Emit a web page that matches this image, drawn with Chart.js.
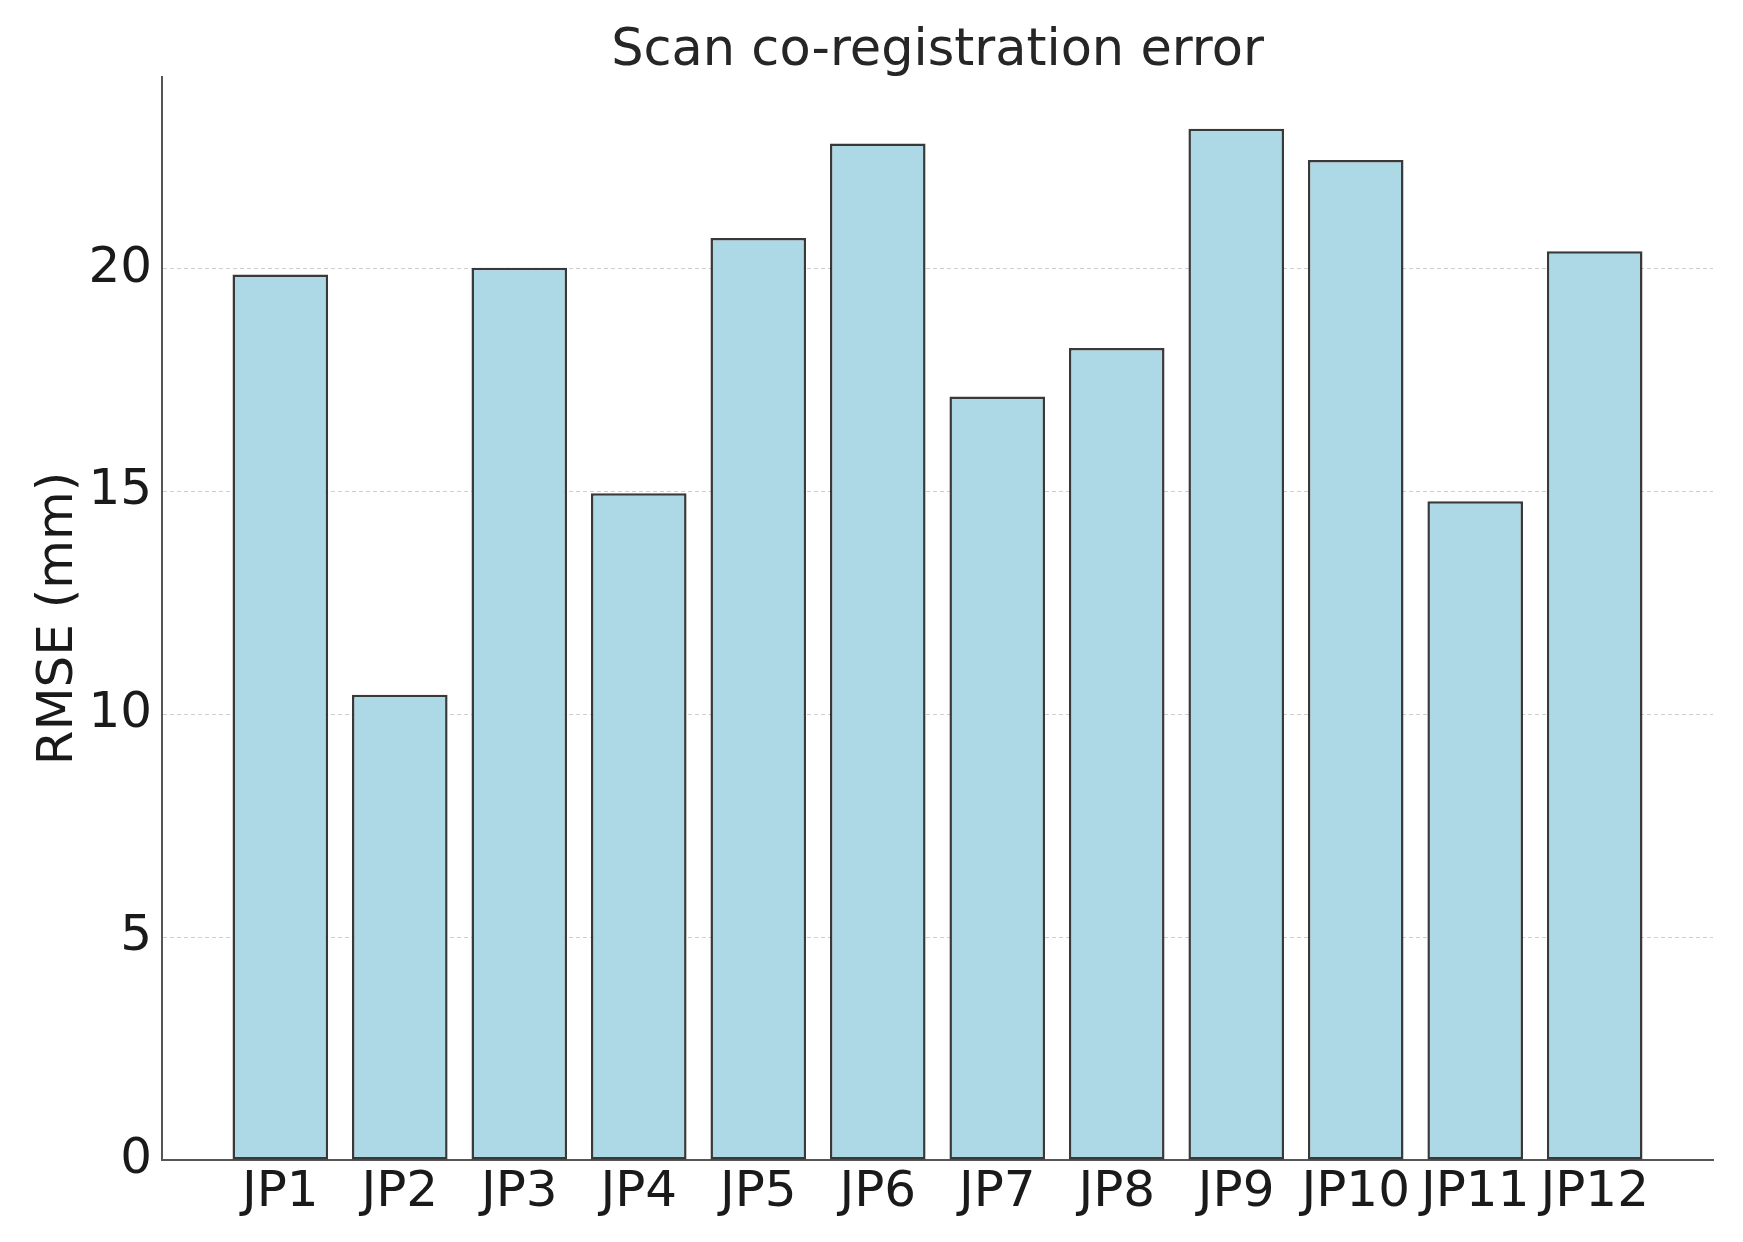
<!DOCTYPE html>
<html>
<head>
<meta charset="utf-8">
<script src="https://cdn.jsdelivr.net/npm/chart.js@4"></script>
<style>
  html, body { margin: 0; padding: 0; background: #ffffff; }
  #wrap { width: 1743px; height: 1242px; }
</style>
</head>
<body>
<div id="wrap"><canvas id="c" width="1743" height="1242"></canvas></div>
<script>
const categories = ["JP1","JP2","JP3","JP4","JP5","JP6","JP7","JP8","JP9","JP10","JP11","JP12"];
const rmseValues = [19.87, 10.44, 20.02, 14.96, 20.69, 22.81, 17.13, 18.22, 23.14, 22.44, 14.78, 20.39];
const yTickValues = [0, 5, 10, 15, 20];
const titleText = "Scan co-registration error";
const yAxisTitle = "RMSE (mm)";

const FONT = "'DejaVu Sans', sans-serif";
const points = rmseValues.map((v, i) => ({ x: i, y: v }));

new Chart(document.getElementById('c'), {
  type: 'bar',
  data: {
    datasets: [{
      data: points,
      backgroundColor: '#ADD8E6',
      borderColor: 'rgba(35,35,35,0.9)',
      borderWidth: 2.5,
      borderSkipped: false,
      categoryPercentage: 1.0,
      barPercentage: 0.8
    }]
  },
  options: {
    responsive: false,
    animation: false,
    layout: { padding: { left: 0, right: 30, top: 0, bottom: 0 } },
    plugins: {
      legend: { display: false },
      tooltip: { enabled: false },
      title: {
        display: true,
        fullSize: false,
        text: titleText,
        color: '#262626',
        font: { family: FONT, size: 51, weight: 'normal', lineHeight: 1.0 },
        padding: { top: 26, bottom: 0 }
      }
    },
    scales: {
      x: {
        type: 'linear',
        offset: false,
        min: -0.99,
        max: 11.99,
        afterBuildTicks: (axis) => { axis.ticks = categories.map((c, i) => ({ value: i })); },
        afterFit: (axis) => { axis.height = 82; },
        ticks: {
          autoSkip: false,
          maxRotation: 0,
          padding: 8,
          color: '#1a1a1a',
          font: { family: FONT, size: 50, lineHeight: 1.0 },
          callback: (v) => categories[v] ?? ''
        },
        grid: { display: false, drawTicks: false },
        border: { display: true, color: '#555555', width: 2 }
      },
      y: {
        min: 0,
        max: 24.3,
        afterBuildTicks: (axis) => { axis.ticks = yTickValues.map(v => ({ value: v })); },
        afterFit: (axis) => { axis.width = 162; },
        ticks: {
          padding: 10,
          color: '#1a1a1a',
          font: { family: FONT, size: 50, lineHeight: 1.0 }
        },
        grid: {
          drawTicks: false,
          color: (ctx) => ctx.tick && ctx.tick.value === 0 ? 'rgba(0,0,0,0)' : 'rgba(195,195,195,0.8)',
          lineWidth: 1
        },
        border: { display: true, color: '#555555', width: 2, dash: [4, 3] },
        title: {
          display: true,
          text: yAxisTitle,
          color: '#1a1a1a',
          font: { family: FONT, size: 50, lineHeight: 1.0 },
          padding: { top: 34, bottom: 0 }
        }
      }
    }
  }
});
</script>
</body>
</html>
